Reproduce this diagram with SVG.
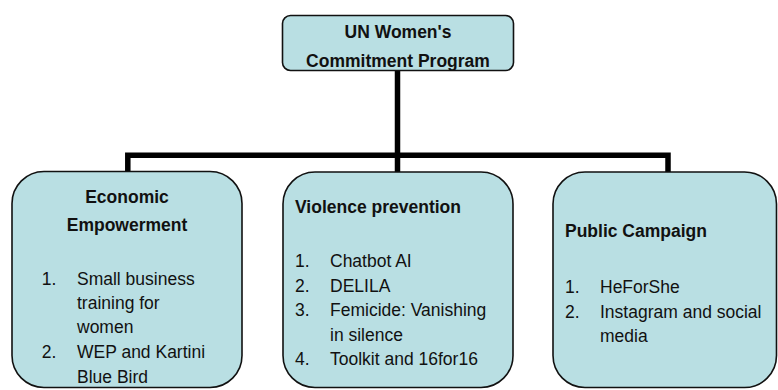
<svg xmlns="http://www.w3.org/2000/svg" width="778" height="390" viewBox="0 0 778 390">
<style>
.box{fill:#B9DFE3;stroke:#111;stroke-width:1.6}
.t{font-family:"Liberation Sans",Arial,sans-serif;font-size:17.5px;fill:#111}
.b{font-weight:bold}
.c{text-anchor:middle}
.conn{fill:none;stroke:#000;stroke-width:5.5}
</style>
<defs>
<clipPath id="cTop"><rect x="283" y="16" width="230" height="54" rx="8"/></clipPath>
<clipPath id="cL"><rect x="12" y="171" width="230" height="216" rx="32"/></clipPath>
<clipPath id="cM"><rect x="283" y="172" width="230" height="215" rx="32"/></clipPath>
<clipPath id="cR"><rect x="553" y="172" width="224" height="215" rx="32"/></clipPath>
</defs>
<rect width="778" height="390" fill="#fff"/>
<g id="connectors">
<path class="conn" d="M397.5 71 V172"/>
<path class="conn" d="M127.8 172 V155.3 H668 V172"/>
</g>
<g id="top">
<rect class="box" x="282.5" y="15.5" width="231" height="55" rx="8"/>
<g clip-path="url(#cTop)">
<text class="t b c" x="398" y="37.5">UN Women's</text>
<text class="t b c" x="398" y="67">Commitment Program</text>
</g>
</g>
<g id="economic">
<rect class="box" x="12" y="171.5" width="230" height="216" rx="32"/>
<g clip-path="url(#cL)">
<text class="t b c" x="127" y="203.3">Economic</text>
<text class="t b c" x="127" y="230.7">Empowerment</text>
<text class="t" x="41.7" y="285">1.</text>
<text class="t" x="77" y="285">Small business</text>
<text class="t" x="77" y="308.5">training for</text>
<text class="t" x="77" y="333">women</text>
<text class="t" x="41.7" y="358">2.</text>
<text class="t" x="77" y="358">WEP and Kartini</text>
<text class="t" x="77" y="382.5">Blue Bird</text>
</g>
</g>
<g id="violence">
<rect class="box" x="283" y="172" width="230" height="215.5" rx="32"/>
<g clip-path="url(#cM)">
<text class="t b" x="295" y="213">Violence prevention</text>
<text class="t" x="295" y="267">1.</text>
<text class="t" x="330" y="267">Chatbot AI</text>
<text class="t" x="295" y="291.5">2.</text>
<text class="t" x="330" y="291.5">DELILA</text>
<text class="t" x="295" y="316">3.</text>
<text class="t" x="330" y="316">Femicide: Vanishing</text>
<text class="t" x="330" y="340.5">in silence</text>
<text class="t" x="295" y="365">4.</text>
<text class="t" x="330" y="365">Toolkit and 16for16</text>
</g>
</g>
<g id="public">
<rect class="box" x="553" y="172" width="223.5" height="215.5" rx="32"/>
<g clip-path="url(#cR)">
<text class="t b" x="565" y="236.7">Public Campaign</text>
<text class="t" x="565" y="292.7">1.</text>
<text class="t" x="600" y="292.7">HeForShe</text>
<text class="t" x="565" y="317.5">2.</text>
<text class="t" x="600" y="317.5">Instagram and social</text>
<text class="t" x="600" y="341.7">media</text>
</g>
</g>
</svg>
